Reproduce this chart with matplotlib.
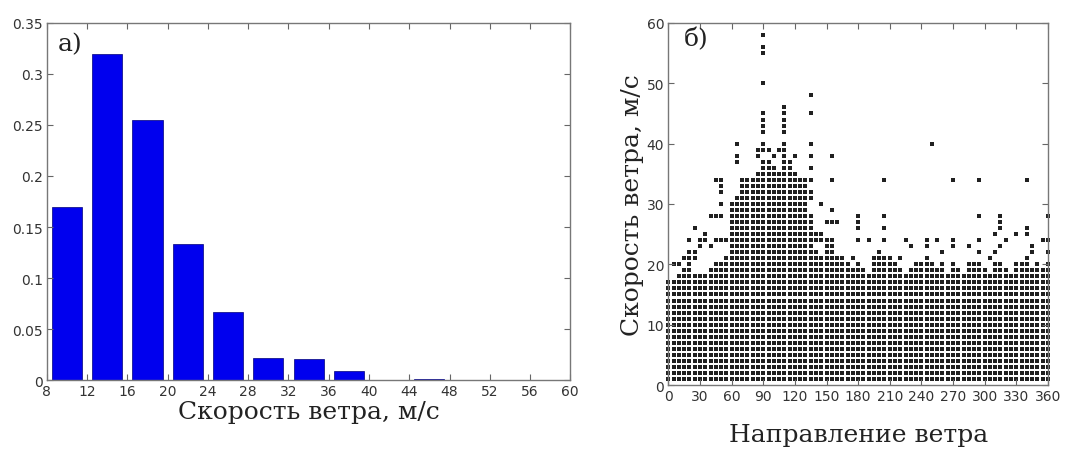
import numpy as np
import matplotlib.pyplot as plt

# --- данные: гистограмма скорости ветра (а) ---
bin_left = [8, 12, 16, 20, 24, 28, 32, 36, 40, 44, 48, 52, 56]
freq = [0.170, 0.320, 0.255, 0.133, 0.067, 0.022, 0.021, 0.009, 0.0003, 0.0008, 0.0, 0.0, 0.0]

# --- данные: скорость/направление (б) ---
# для каждого направления: верхняя граница сплошного столбца точек (1..top м/с)
directions = list(range(0, 361, 5))
col_top = [17, 17, 18, 19, 19, 18, 18, 18, 19, 20, 20, 21, 30, 31, 34, 34, 34, 35, 37, 37,
           36, 35, 38, 37, 35, 34, 34, 28, 22, 21, 24, 24, 21, 21, 20, 19, 20, 19, 18, 20,
           21, 21, 21, 20, 19, 18, 19, 20, 20, 21, 20, 19, 20, 18, 20, 19, 18, 20, 20, 20,
           19, 18, 20, 20, 19, 18, 20, 20, 20, 19, 20, 19, 20]
# отдельные точки над сплошными столбцами
out_dir = [5, 10, 20, 15, 20, 25, 20, 25, 20, 30, 35, 45, 50, 55, 35, 25, 40, 45, 50, 50, 50, 50,
           45, 50, 40, 30,
           90, 90, 90, 90, 90, 90, 90, 90, 90, 90,
           110, 110, 110, 110, 110, 110, 110,
           65, 65, 65, 85, 85, 95, 100, 105, 120,
           135, 135, 135, 135, 135, 135, 135, 135,
           155, 155, 155, 155, 160, 145, 150, 145, 145, 140, 140,
           180, 180, 180, 180, 205, 205, 205, 295, 315, 315, 315, 340, 340,
           310, 330, 190, 225, 245, 255, 270, 295, 320, 230, 245, 270, 285, 315, 345,
           200, 260, 295, 310, 345, 175, 195, 210, 220, 305, 340,
           205, 250, 270, 295, 340, 360, 360, 360, 355]
out_spd = [20, 20, 20, 21, 21, 21, 22, 22, 24, 24, 24, 24, 24, 24, 25, 26, 28, 28, 28, 30, 32, 33,
           34, 34, 23, 23,
           58, 56, 55, 50, 45, 44, 43, 42, 40, 39,
           46, 45, 44, 43, 42, 40, 39,
           40, 38, 37, 39, 38, 39, 38, 39, 38,
           48, 45, 40, 38, 36, 34, 32, 31,
           38, 34, 29, 27, 27, 30, 27, 25, 24, 24, 25,
           28, 27, 26, 24, 28, 26, 24, 28, 28, 27, 26, 26, 25,
           25, 25, 24, 24, 24, 24, 24, 24, 24, 23, 23, 23, 23, 23, 23,
           22, 22, 22, 22, 22, 21, 21, 21, 21, 21, 21,
           34, 40, 34, 34, 34, 28, 24, 22, 24]

bar_color = '#0000ee'
tick_color = '#333333'
serif = 'DejaVu Serif'

fig = plt.figure(figsize=(10.66, 4.52), dpi=100)
ax1 = fig.add_axes([0.044, 0.157, 0.491, 0.790])
ax2 = fig.add_axes([0.627, 0.146, 0.356, 0.801])

# (а) гистограмма
centers = np.array(bin_left) + 2
ax1.bar(centers, freq, width=3.0, color=bar_color, edgecolor='#00007a', linewidth=0.5)
ax1.set_xlim(8, 60)
ax1.set_ylim(0, 0.35)
ax1.set_xticks(range(8, 61, 4))
ax1.set_yticks(np.arange(0, 0.351, 0.05))
ax1.set_yticklabels(['0', '0.05', '0.1', '0.15', '0.2', '0.25', '0.3', '0.35'])
ax1.set_xlabel('Скорость ветра, м/с', family=serif, fontsize=18, labelpad=1, color='#222222')
ax1.text(0.02, 0.975, 'а)', transform=ax1.transAxes, family=serif, fontsize=18,
         ha='left', va='top', color='#222222')

# (б) точки скорость/направление
px, py = [], []
for d, top in zip(directions, col_top):
    s = np.arange(1, top + 1)
    px.append(np.full(len(s), d))
    py.append(s)
px = np.concatenate(px + [np.array(out_dir)])
py = np.concatenate(py + [np.array(out_spd)])
ax2.scatter(px, py, marker='s', s=6.5, color='#202020', linewidths=0, clip_on=False)
ax2.set_xlim(0, 360)
ax2.set_ylim(0, 60)
ax2.set_xticks(range(0, 361, 30))
ax2.set_yticks(range(0, 61, 10))
ax2.set_xlabel('Направление ветра', family=serif, fontsize=18, labelpad=14, color='#222222')
ax2.set_ylabel('Скорость ветра, м/с', family=serif, fontsize=18, labelpad=2, color='#222222')
ax2.text(0.04, 0.99, 'б)', transform=ax2.transAxes, family=serif, fontsize=18,
         ha='left', va='top', color='#222222')

for ax in (ax1, ax2):
    ax.tick_params(direction='in', top=True, right=True, length=4, width=0.8,
                   colors='#666666', labelcolor=tick_color, labelsize=10, pad=3)
    for sp in ax.spines.values():
        sp.set_color('#777777')
        sp.set_linewidth(1.0)

fig.savefig('out.png', dpi=100)
